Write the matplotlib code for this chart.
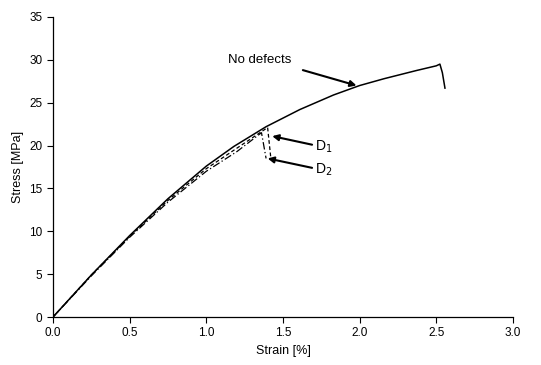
import matplotlib
matplotlib.use('Agg')
import matplotlib.pyplot as plt

plt.rcParams['font.family'] = ['Liberation Sans', 'DejaVu Sans']

# curves (strain %, stress MPa)
strain_nd = [0.0, 0.25, 0.5, 0.75, 1.0, 1.18, 1.39, 1.61, 1.83, 2.0, 2.16, 2.37, 2.5, 2.524, 2.54, 2.557]
stress_nd = [0.0, 4.9, 9.5, 13.8, 17.6, 19.9, 22.2, 24.2, 25.9, 27.0, 27.8, 28.75, 29.3, 29.5, 28.5, 26.7]

strain_d1 = [0.0, 0.25, 0.5, 0.75, 1.0, 1.2, 1.40, 1.42]
stress_d1 = [0.0, 4.9, 9.4, 13.6, 17.3, 19.7, 22.1, 18.7]

strain_d2 = [0.0, 0.25, 0.5, 0.75, 1.0, 1.2, 1.36, 1.39]
stress_d2 = [0.0, 4.8, 9.3, 13.4, 17.0, 19.3, 21.5, 18.5]

xticks = [0.0, 0.5, 1.0, 1.5, 2.0, 2.5, 3.0]
yticks = [0, 5, 10, 15, 20, 25, 30, 35]

fig = plt.figure(figsize=(5.41, 3.65), dpi=100)
ax = fig.add_axes([0.098, 0.1315, 0.85, 0.822])

ax.plot(strain_nd, stress_nd, color='k', lw=1.1)
ax.plot(strain_d1, stress_d1, color='k', lw=0.9, dashes=(3, 2))
ax.plot(strain_d2, stress_d2, color='k', lw=0.9, dashes=(6, 2, 1, 2))

ax.set_xlim(0, 3.0)
ax.set_ylim(0, 35)
ax.set_xticks(xticks)
ax.set_yticks(yticks)
ax.set_xticklabels(['%.1f' % v for v in xticks])
ax.tick_params(labelsize=8.5, length=4, width=0.8, direction='out')
for s in ['top', 'right']:
    ax.spines[s].set_visible(False)
for s in ['left', 'bottom']:
    ax.spines[s].set_linewidth(0.9)

ax.set_xlabel('Strain [%]', fontsize=9)
ax.set_ylabel('Stress [MPa]', fontsize=9)

arrow = dict(arrowstyle='-|>', color='k', lw=1.5, mutation_scale=9, shrinkA=0, shrinkB=0)
ax.annotate('', xy=(1.98, 27.0), xytext=(1.63, 28.8), arrowprops=arrow)
ax.text(1.35, 30.0, 'No defects', fontsize=9.5, ha='center', va='center')
ax.annotate('', xy=(1.43, 21.1), xytext=(1.69, 20.1), arrowprops=arrow)
ax.text(1.71, 19.8, 'D$_1$', fontsize=10, ha='left', va='center')
ax.annotate('', xy=(1.40, 18.5), xytext=(1.69, 17.4), arrowprops=arrow)
ax.text(1.71, 17.2, 'D$_2$', fontsize=10, ha='left', va='center')

plt.savefig('out.png', dpi=100)
